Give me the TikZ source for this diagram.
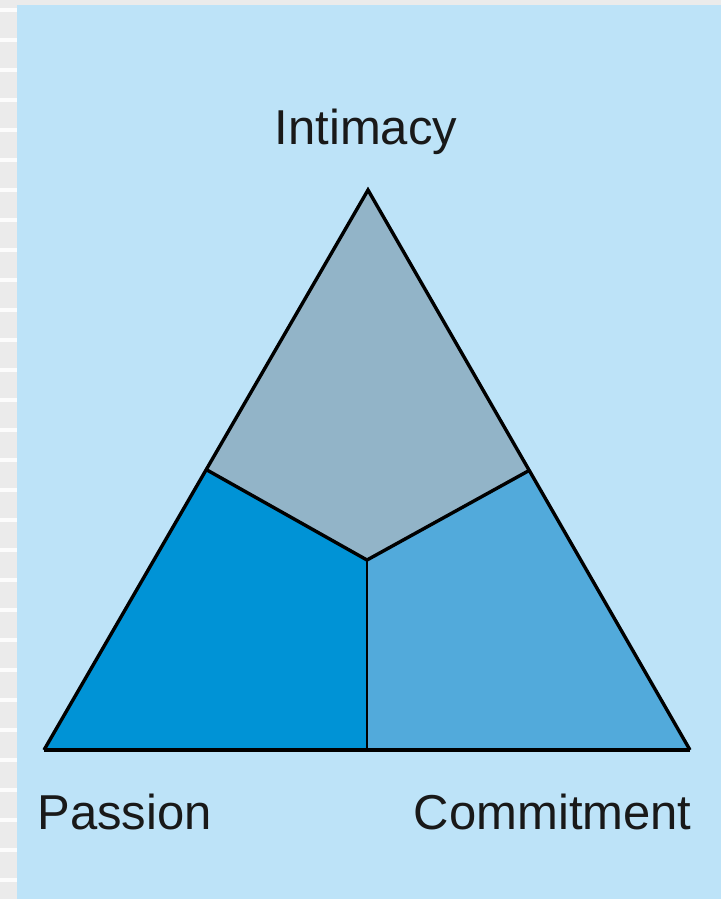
\documentclass[tikz,border=0pt]{standalone}
\usepackage{fontspec}
\setmainfont{Liberation Sans}
\definecolor{pagegray}{HTML}{EBEBEB}
\definecolor{panelblue}{HTML}{BDE3F8}
\definecolor{intimacyc}{HTML}{92B4C8}
\definecolor{passionc}{HTML}{0093D6}
\definecolor{commitc}{HTML}{52AADB}
\tikzset{
  lbl/.style={font=\fontsize{24.5pt}{29pt}\selectfont, inner sep=0pt, text=black!90},
  edge/.style={draw=black, line width=1.7pt, line join=miter},
}
\begin{document}
\begin{tikzpicture}[x=0.5pt,y=-0.5pt]
\useasboundingbox (0,0) rectangle (721,899);
\fill[pagegray] (0,0) rectangle (721,899);
\foreach \s in {8,38,...,899} { \fill[white!85!pagegray] (0,\s) rectangle (17,\s+4); }
\fill[panelblue] (17,5) rectangle (721,899);
% vertices
\coordinate (apex) at (368,190);
\coordinate (bl) at (44,750);
\coordinate (br) at (690,750);
\coordinate (lm) at (207,470);
\coordinate (rm) at (530,470);
\coordinate (ctr) at (367,560);
\coordinate (bm) at (367,750);
% regions
\fill[intimacyc] (apex) -- (rm) -- (ctr) -- (lm) -- cycle;
\fill[passionc] (lm) -- (ctr) -- (bm) -- (bl) -- cycle;
\fill[commitc] (rm) -- (br) -- (bm) -- (ctr) -- cycle;
% edges
\draw[edge] (lm) -- (ctr) -- (rm);
\draw[edge, line width=1.4pt] (ctr) -- (bm);
\draw[edge] (bl) -- (apex) -- (br);
\draw[edge, line width=2.2pt] (bl) -- (br);
% labels
\node[lbl, anchor=base] (intimacy) at (366,144) {Intimacy};
\node[lbl, anchor=base west] (passion) at (37,829) {Passion};
\node[lbl, anchor=base east] (commitment) at (692,829) {Commitment};
\end{tikzpicture}
\end{document}
